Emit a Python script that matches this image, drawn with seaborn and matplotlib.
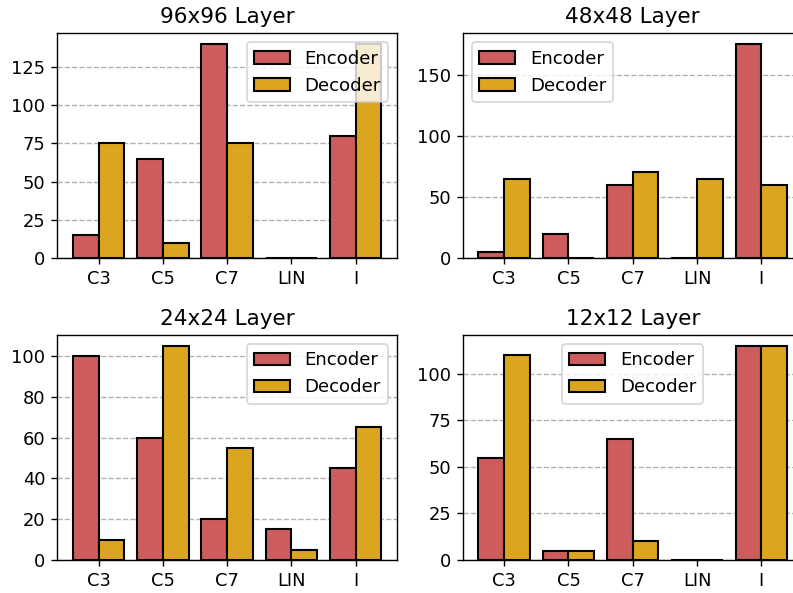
import pandas as pd
import numpy as np
import matplotlib
matplotlib.use('Agg')
import matplotlib.pyplot as plt
import seaborn as sns

# layer types on the x axis
layers = ['C3', 'C5', 'C7', 'LIN', 'I']

# counts per resolution
enc_96 = [15, 65, 140, 0, 80]
dec_96 = [75, 10, 75, 0, 140]
enc_48 = [5, 20, 60, 0, 175]
dec_48 = [65, 0, 70, 65, 60]
enc_24 = [100, 60, 20, 15, 45]
dec_24 = [10, 105, 55, 5, 65]
enc_12 = [55, 5, 65, 0, 115]
dec_12 = [110, 5, 10, 0, 115]

panels = [
    ('96x96 Layer', enc_96, dec_96, 'upper right'),
    ('48x48 Layer', enc_48, dec_48, 'upper left'),
    ('24x24 Layer', enc_24, dec_24, 'upper right'),
    ('12x12 Layer', enc_12, dec_12, 'upper center'),
]

palette = {'Encoder': '#CD5C5C', 'Decoder': '#DAA520'}

plt.rcParams['xtick.labelsize'] = 10.4
plt.rcParams['ytick.labelsize'] = 10.4

fig, axes = plt.subplots(2, 2, figsize=(793 / 124, 593 / 124), dpi=124)

# axes placement (figure fractions), right column runs slightly past the edge
positions = [
    [0.0725, 0.5649, 0.428, 0.379],
    [0.5839, 0.5649, 0.428, 0.379],
    [0.0725, 0.0556, 0.428, 0.3794],
    [0.5839, 0.0556, 0.428, 0.3794],
]

for ax, pos, (title, enc, dec, loc) in zip(axes.flat, positions, panels):
    df = pd.DataFrame({
        'layer': layers * 2,
        'count': enc + dec,
        'part': ['Encoder'] * len(layers) + ['Decoder'] * len(layers),
    })
    sns.barplot(data=df, x='layer', y='count', hue='part', palette=palette,
                order=layers, hue_order=['Encoder', 'Decoder'],
                edgecolor='black', linewidth=1.2, saturation=1, errorbar=None, ax=ax)
    ax.set_axisbelow(True)
    ax.grid(axis='y', linestyle='--', color='#b0b0b0', linewidth=0.8)
    ax.set_xlim(-0.64, 4.64)
    ax.set_ylim(0, max(enc + dec) * 1.05)
    ax.set_title(title, fontsize=12.5)
    ax.set_xlabel('')
    ax.set_ylabel('')
    handles, labels = ax.get_legend_handles_labels()
    ax.legend(handles, labels, loc=loc, fontsize=10.5)
    ax.set_position(pos)

plt.savefig('out.png', dpi=124)
